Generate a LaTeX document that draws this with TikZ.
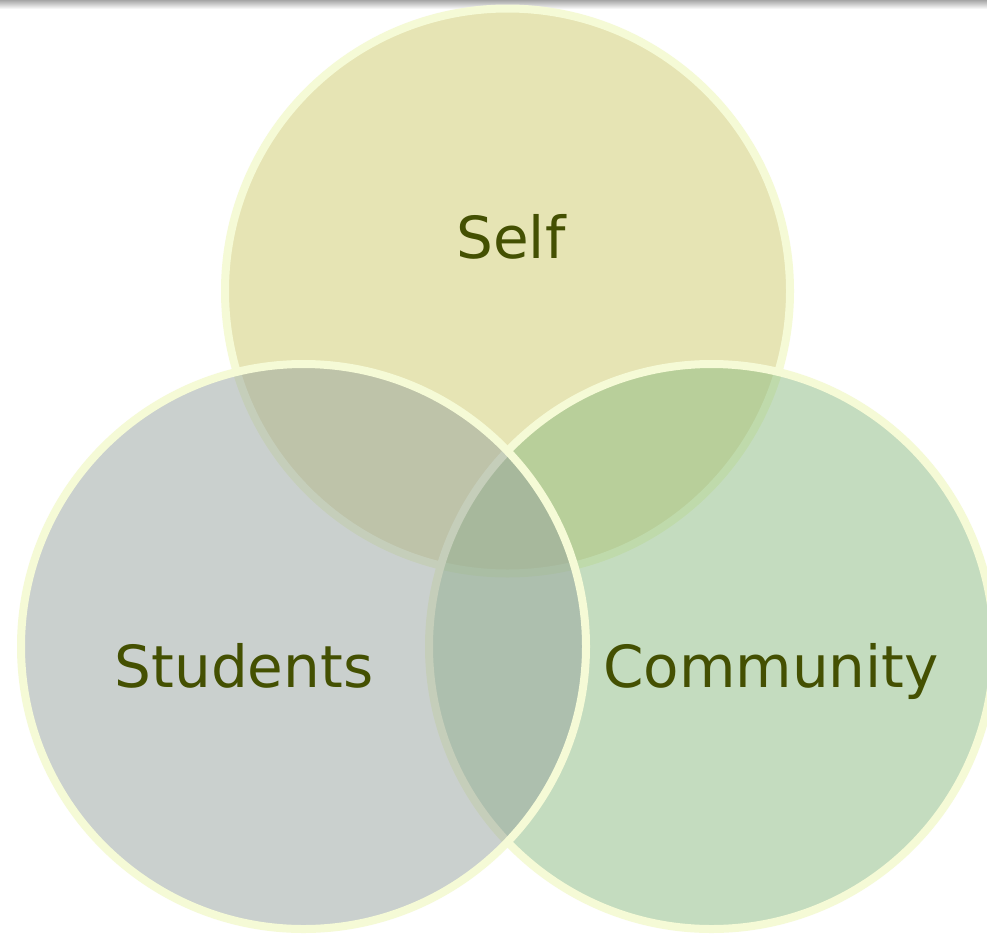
\documentclass[tikz,border=0pt]{standalone}
\usepackage{fontspec}
\setmainfont{DejaVu Sans}
\definecolor{selffill}{RGB}{230,228,180}
\definecolor{comfill}{RGB}{139,187,129}
\definecolor{stufill}{RGB}{151,163,159}
\definecolor{rimcol}{RGB}{245,250,214}
\definecolor{labcol}{RGB}{68,80,2}
\tikzset{
  ring/.style={draw=rimcol, line width=8pt},
  lab/.style={text=labcol, anchor=base, font=\fontsize{58}{70}\selectfont, inner sep=0pt}
}
\begin{document}
\begin{tikzpicture}[x=1pt,y=-1pt]
\useasboundingbox (0,0) rectangle (987,937);
\fill[white] (0,0) rectangle (987,937);
\shade[top color=black!35, bottom color=white] (0,0) rectangle (987,9);
\begin{scope}
\clip (0,0) rectangle (987,937);
\path[ring, fill=selffill] (507.5,291) circle[radius=282.5];
\path[ring, fill=comfill, fill opacity=0.5] (711.5,646.5) circle[radius=282.5];
\path[ring, fill=stufill, fill opacity=0.5] (303.5,646.5) circle[radius=282.5];
\end{scope}
\node[lab] (self) at (511,258) {Self};
\node[lab] (students) at (244,687) {Students};
\node[lab] (community) at (771,687) {Community};
\end{tikzpicture}
\end{document}
